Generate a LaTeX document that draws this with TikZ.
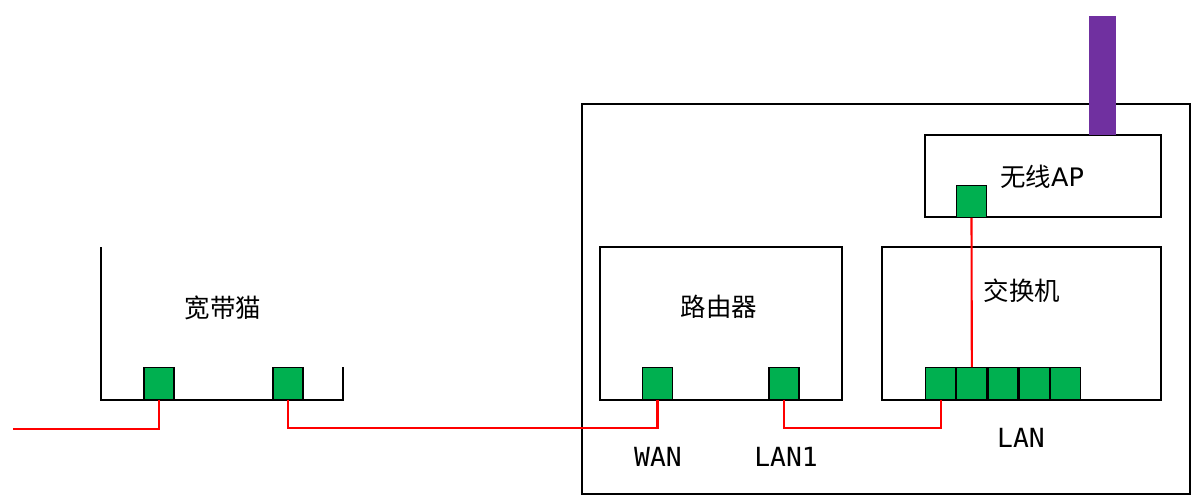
\documentclass[tikz,border=0pt]{standalone}
\usepackage{fontspec}
\setmainfont{DejaVu Sans}
\newfontfamily\cjk{Noto Sans CJK SC}
\newfontfamily\portfont{DejaVu Sans Mono}
\usetikzlibrary{positioning}
\definecolor{portgreen}{RGB}{0,176,80}
\definecolor{antpurple}{RGB}{112,48,160}

\begin{document}
\begin{tikzpicture}[x=0.02cm, y=-0.02cm,
  box/.style = {draw, line width=0.7pt, inner sep=0pt},
  port/.style = {draw, line width=0.7pt, fill=portgreen, inner sep=0pt,
                 minimum width=0.6cm, minimum height=0.635cm},
  wire/.style = {draw=red, line width=1.2pt},
  devname/.style = {font=\cjk\fontsize{14.5}{17}\selectfont},
  portname/.style = {font=\portfont\fontsize{15}{18}\selectfont},
  ]
  \useasboundingbox (0,0) rectangle (1199,503);

  % modem, open at the top
  \draw[line width=0.7pt] (101,247) |- (343,400) -- (343,367);
  \node[devname] (modem) at (223,308) {宽带猫};
  \node[port] (mp1) at (159,383.5) {};
  \node[port] (mp2) at (288,383.5) {};

  % the cabinet
  \node[box, minimum width=12.16cm, minimum height=7.8cm] (cab) at (886,299) {};
  \node[box, minimum width=4.84cm, minimum height=3.06cm] (router) at (721,323.5) {};
  \node[box, minimum width=5.58cm, minimum height=3.06cm] (switch) at (1021.5,323.5) {};
  \node[box, minimum width=4.72cm, minimum height=1.64cm] (ap) at (1043,176) {};
  \node[fill=antpurple, inner sep=0pt, minimum width=0.54cm, minimum height=2.38cm] (ant) at (1102.5,75.5) {};

  \node[devname] (routername) at (719,307) {路由器};
  \node[devname] (switchname) at (1022,291) {交换机};
  \node[font=\fontsize{14.5}{17}\selectfont] (apname) at (1042,177) {{\cjk 无线}AP};

  % ports
  \node[port] (wan) at (657.5,383.5) {};
  \node[port] (lan1) at (784,383.5) {};
  \node[port] (sw1) at (940.6,383.5) {};
  \node[port, right=0pt of sw1] (sw2) {};
  \node[port, right=0pt of sw2] (sw3) {};
  \node[port, right=0pt of sw3] (sw4) {};
  \node[port, right=0pt of sw4] (sw5) {};
  \node[port] (apport) at (971.5,201.5) {};

  \node[portname] (wanname) at (658,457) {WAN};
  \node[portname] (lan1name) at (786,457) {LAN1};
  \node[portname] (lanname) at (1021,438) {LAN};

  % cables
  \coordinate (linein) at (13,429);
  \draw[wire] (linein) -| (mp1.south);
  \draw[wire] (mp2.south) -- ++(0,28) -| (wan.south);
  \draw[wire] (lan1.south) -- ++(0,28) -| (sw1.south);
  \draw[wire] (apport.south) -- (sw2.north);
\end{tikzpicture}
\end{document}
